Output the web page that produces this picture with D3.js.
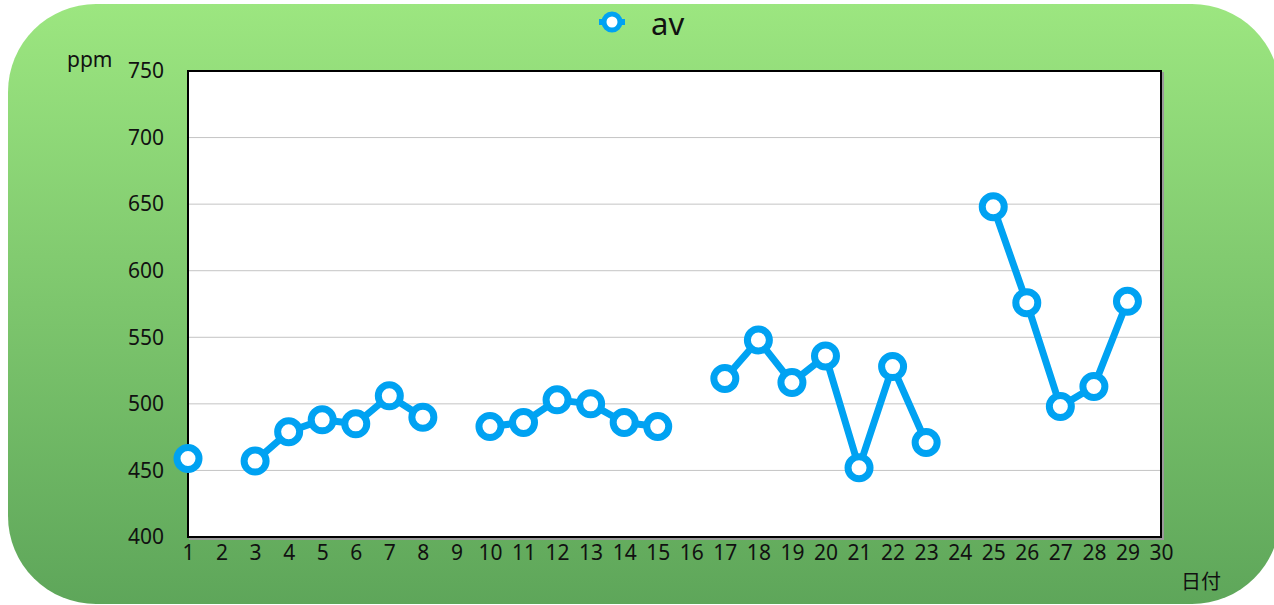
<!DOCTYPE html>
<html>
<head>
<meta charset="utf-8">
<script src="https://cdn.jsdelivr.net/npm/d3@7"></script>
<style>
body { margin: 0; background: #fff; }
svg { display: block; font-family: "Noto Sans", "Noto Sans CJK JP", sans-serif; }
</style>
</head>
<body>
<script>
// data
var days = d3.range(1, 31);
var avValues = [459, null, 457, 479, 488, 485, 506, 490, null, 483,
                486, 503, 500, 486, 483, null, 519, 548, 516, 536,
                452, 528, 471, null, 648, 576, 498, 513, 577, null];
var yTicks = [400, 450, 500, 550, 600, 650, 700, 750];
var seriesName = 'av';
var yUnit = 'ppm';
var xTitle = '日付';

var W = 1274, H = 605;
var plot = { left: 188, right: 1161, top: 71, bottom: 537 };
var blue = '#00a2f2';
var font = '"Noto Sans", "Noto Sans CJK JP", sans-serif';

var svg = d3.select('body').append('svg')
    .attr('width', W)
    .attr('height', H);

// background gradient
var defs = svg.append('defs');
var grad = defs.append('linearGradient')
    .attr('id', 'bg')
    .attr('x1', 0).attr('y1', 0).attr('x2', 0).attr('y2', 1);
grad.append('stop').attr('offset', '0%').attr('stop-color', '#9ce680');
grad.append('stop').attr('offset', '100%').attr('stop-color', '#5ea65a');

svg.append('rect')
    .attr('x', 8).attr('y', 4)
    .attr('width', 1272).attr('height', 600)
    .attr('rx', 88).attr('ry', 88)
    .attr('fill', 'url(#bg)');

// scales
var x = d3.scalePoint()
    .domain(days)
    .range([plot.left, plot.right]);
var y = d3.scaleLinear()
    .domain([400, 750])
    .range([plot.bottom, plot.top]);

// plot area with shadow
svg.append('rect')
    .attr('x', plot.left + 2).attr('y', plot.top + 2)
    .attr('width', plot.right - plot.left).attr('height', plot.bottom - plot.top)
    .attr('fill', 'none')
    .attr('stroke', '#9a9a9a')
    .attr('stroke-width', 2);
svg.append('rect')
    .attr('x', plot.left).attr('y', plot.top)
    .attr('width', plot.right - plot.left).attr('height', plot.bottom - plot.top)
    .attr('fill', '#fff');

// gridlines
svg.append('g')
    .selectAll('line')
    .data(yTicks.slice(1, -1))
    .enter().append('line')
    .attr('x1', plot.left).attr('x2', plot.right)
    .attr('y1', function (d) { return y(d); })
    .attr('y2', function (d) { return y(d); })
    .attr('stroke', '#c4c4c4')
    .attr('stroke-width', 1);

svg.append('rect')
    .attr('x', plot.left).attr('y', plot.top)
    .attr('width', plot.right - plot.left).attr('height', plot.bottom - plot.top)
    .attr('fill', 'none')
    .attr('stroke', '#000')
    .attr('stroke-width', 2);

// y axis labels
var yAxis = d3.axisLeft(y).tickValues(yTicks).tickSize(0).tickPadding(24);
var gy = svg.append('g')
    .attr('transform', 'translate(' + plot.left + ',0)')
    .call(yAxis);
gy.select('.domain').remove();
gy.selectAll('text')
    .attr('font-size', 21)
    .attr('fill', '#111')
    .attr('font-family', font);

// x axis labels
var xAxis = d3.axisBottom(x).tickSize(0).tickPadding(8);
var gx = svg.append('g')
    .attr('transform', 'translate(0,' + plot.bottom + ')')
    .call(xAxis);
gx.select('.domain').remove();
gx.selectAll('text')
    .attr('font-size', 21)
    .attr('fill', '#111')
    .attr('font-family', font);

// axis titles
svg.append('text')
    .attr('x', 67).attr('y', 67)
    .attr('font-size', 21)
    .attr('fill', '#111')
    .text(yUnit);
svg.append('text')
    .attr('x', 1181).attr('y', 589)
    .attr('font-size', 20)
    .attr('fill', '#111')
    .attr('font-family', '"Noto Sans CJK JP", sans-serif')
    .text(xTitle);

// series
var points = days.map(function (d, i) { return { day: d, v: avValues[i] }; });
var lineFunc = d3.line()
    .defined(function (d) { return d.v !== null; })
    .x(function (d) { return x(d.day); })
    .y(function (d) { return y(d.v); });

svg.append('path')
    .datum(points)
    .attr('d', lineFunc)
    .attr('fill', 'none')
    .attr('stroke', blue)
    .attr('stroke-width', 7)
    .attr('stroke-linejoin', 'round');

svg.append('g')
    .selectAll('circle')
    .data(points.filter(function (d) { return d.v !== null; }))
    .enter().append('circle')
    .attr('cx', function (d) { return x(d.day); })
    .attr('cy', function (d) { return y(d.v); })
    .attr('r', 11)
    .attr('fill', '#fff')
    .attr('stroke', blue)
    .attr('stroke-width', 7);

// legend
var gLeg = svg.append('g').attr('transform', 'translate(612,22)');
gLeg.append('line')
    .attr('x1', -13).attr('x2', 13)
    .attr('stroke', blue).attr('stroke-width', 6);
gLeg.append('circle')
    .attr('r', 8)
    .attr('fill', '#fff')
    .attr('stroke', blue)
    .attr('stroke-width', 5);
gLeg.append('text')
    .attr('x', 39).attr('y', 35)
    .attr('font-size', 31)
    .attr('fill', '#111')
    .attr('transform', 'translate(0,-22)')
    .text(seriesName);
</script>
</body>
</html>
